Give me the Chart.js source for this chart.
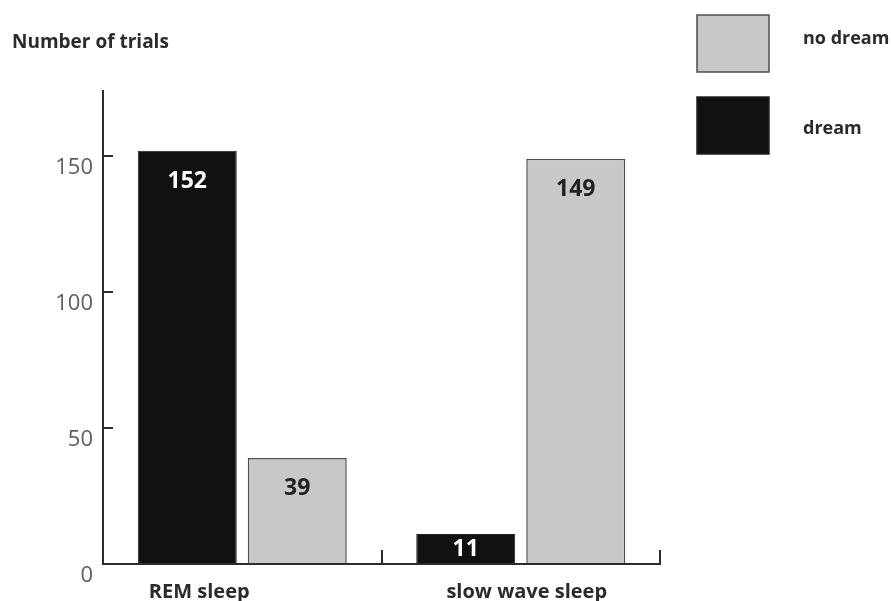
<!DOCTYPE html>
<html lang="en">

<head>
    <meta charset="UTF-8">
    <meta name="viewport" content="width=device-width, initial-scale=1.0">
    <script src="https://cdn.jsdelivr.net/npm/chart.js"></script>
    <title>Number of trials</title>
    <style>
        body { margin: 0; background: #fff; overflow: hidden; }
        #box { width: 891px; height: 601px; }
    </style>
</head>

<body>
    <div id="box">
        <canvas id="myChartCanvas"></canvas>
    </div>
</body>

</html>

<script>
    // data
    const categories = ['REM sleep', 'slow wave sleep'];
    const dream = [152, 11];
    const noDream = [39, 149];
    const seriesNames = ['dream', 'no dream'];
    const yTicks = [0, 50, 100, 150];
    const yMax = 174;

    const fontName = '"Open Sans", "DejaVu Sans", sans-serif';
    const ink = '#2b2b2b';

    // numbers written inside the bars
    const valueLabels = {
        id: 'valueLabels',
        afterDatasetsDraw(chart) {
            const ctx = chart.ctx;
            ctx.save();
            ctx.font = 'bold 23px ' + fontName;
            ctx.textAlign = 'center';
            ctx.textBaseline = 'middle';
            chart.data.datasets.forEach(function (ds, i) {
                chart.getDatasetMeta(i).data.forEach(function (bar, j) {
                    let y = Math.min(bar.y + 31, (bar.y + bar.base) / 2 + 1);
                    ctx.fillStyle = ds.valueColor;
                    ctx.fillText(ds.data[j], bar.x, y);
                });
            });
            ctx.restore();
        }
    };

    // category names under the axis, a bit off centre like the original
    const categoryLabels = {
        id: 'categoryLabels',
        afterDraw(chart, args, opts) {
            const ctx = chart.ctx;
            const x = chart.scales.x;
            ctx.save();
            ctx.font = 'bold 20px ' + fontName;
            ctx.fillStyle = ink;
            ctx.textAlign = 'center';
            ctx.textBaseline = 'alphabetic';
            categories.forEach(function (name, i) {
                ctx.fillText(name, x.getPixelForValue(i) + opts.shift[i], x.top + opts.y);
            });
            ctx.restore();
        }
    };

    // legend boxes in the top right corner ("no dream" first)
    const sideLegend = {
        id: 'sideLegend',
        afterDraw(chart, args, opts) {
            const ctx = chart.ctx;
            ctx.save();
            ctx.font = 'bold 18px ' + fontName;
            ctx.textAlign = 'left';
            ctx.textBaseline = 'middle';
            [1, 0].forEach(function (dsIndex, k) {
                const ds = chart.data.datasets[dsIndex];
                const top = opts.top + k * opts.step;
                ctx.fillStyle = ds.backgroundColor;
                ctx.fillRect(opts.x, top, opts.boxW, opts.boxH);
                ctx.lineWidth = 1.5;
                ctx.strokeStyle = ds.borderColor;
                ctx.strokeRect(opts.x, top, opts.boxW, opts.boxH);
                ctx.fillStyle = ink;
                ctx.fillText(ds.label, opts.textX, top + opts.boxH / 2 + opts.textDy[k]);
            });
            ctx.restore();
        }
    };

    let dados = {
        labels: categories,
        datasets: [{
            label: seriesNames[0],
            data: dream,
            backgroundColor: '#111111',
            borderColor: '#222222',
            borderWidth: 1,
            valueColor: '#ffffff',
            categoryPercentage: 0.79,
            barPercentage: 0.9
        }, {
            label: seriesNames[1],
            data: noDream,
            backgroundColor: '#c8c8c8',
            borderColor: '#4d4d4d',
            borderWidth: 1.5,
            valueColor: '#222222',
            categoryPercentage: 0.79,
            barPercentage: 0.9
        }]
    };

    const config = {
        type: 'bar',
        data: dados,
        plugins: [valueLabels, categoryLabels, sideLegend],
        options: {
            responsive: true,
            maintainAspectRatio: false,
            animation: false,
            layout: { padding: { left: 12, right: 231, top: 0, bottom: 0 } },
            plugins: {
                legend: { display: false },
                tooltip: { enabled: false },
                title: {
                    display: true,
                    text: 'Number of trials',
                    align: 'start',
                    color: ink,
                    font: { family: fontName, size: 19, weight: 'bold' },
                    padding: { top: 31, bottom: 37 }
                },
                categoryLabels: { shift: [-43, 6], y: 34 },
                sideLegend: { x: 697, top: 15, step: 82, boxW: 72, boxH: 57, textX: 803, textDy: [-5, 3] }
            },
            scales: {
                x: {
                    grid: {
                        display: true,
                        drawOnChartArea: false,
                        drawTicks: true,
                        tickLength: -14,
                        color: ink,
                        lineWidth: 2,
                        offset: true
                    },
                    border: { display: true, color: ink, width: 2 },
                    ticks: { display: false },
                    afterFit: function (scale) { scale.height = 37; }
                },
                y: {
                    min: 0,
                    max: yMax,
                    afterBuildTicks: function (scale) {
                        scale.ticks = yTicks.map(function (v) { return { value: v }; });
                    },
                    grid: {
                        drawOnChartArea: false,
                        tickLength: -10,
                        color: ink,
                        lineWidth: 2
                    },
                    border: { display: true, color: ink, width: 2 },
                    ticks: {
                        color: '#5e5e5e',
                        font: { family: fontName, size: 22 },
                        padding: 20,
                        labelOffset: 12
                    },
                    afterFit: function (scale) { scale.width = 91; }
                }
            }
        }
    };

    let myChart = new Chart(document.getElementById('myChartCanvas'), config);
</script>
